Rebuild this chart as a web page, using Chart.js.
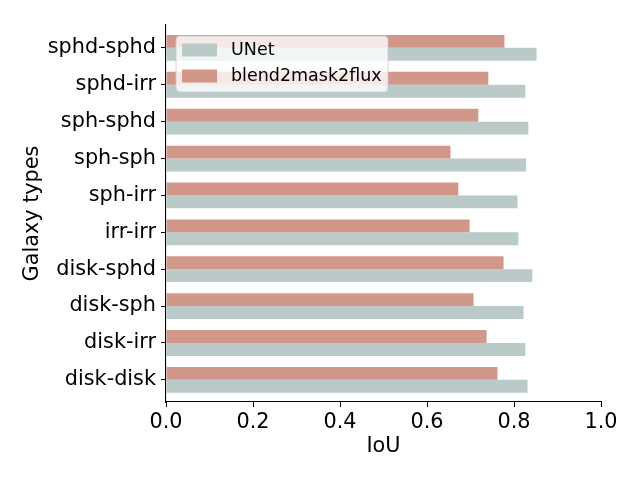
<!DOCTYPE html>
<html>
<head>
<meta charset="utf-8">
<script src="https://cdn.jsdelivr.net/npm/chart.js@4"></script>
<style>
  html, body { margin: 0; padding: 0; background: #fff; }
  #wrap { width: 640px; height: 480px; }
</style>
</head>
<body>
<div id="wrap"><canvas id="iouChart" width="640" height="480"></canvas></div>
<script>
// Galaxy pair types, top to bottom
const galaxyTypes = ['sphd-sphd', 'sphd-irr', 'sph-sphd', 'sph-sph', 'sph-irr',
                     'irr-irr', 'disk-sphd', 'disk-sph', 'disk-irr', 'disk-disk'];

// IoU per model
const unetIoU  = [0.852, 0.826, 0.833, 0.828, 0.808, 0.810, 0.842, 0.822, 0.826, 0.831];
const blendIoU = [0.778, 0.741, 0.718, 0.654, 0.672, 0.698, 0.776, 0.707, 0.737, 0.762];

const xTicks = [0.0, 0.2, 0.4, 0.6, 0.8, 1.0];

const FONT = 'DejaVu Sans';
const unetColor = 'rgb(186, 202, 200)';
const blendColor = 'rgb(209, 152, 138)';

// Turn a value list into {x, y} points on the index axis
function toPoints(values) {
    return values.map((v, i) => ({ x: v, y: i }));
}

// Legend drawn over the plot area, like matplotlib's "best" placement
const overlayLegend = {
    id: 'overlayLegend',
    afterDraw(chart) {
        const ctx = chart.ctx;
        const items = [
            { label: 'UNet', color: unetColor },
            { label: 'blend2mask2flux', color: blendColor }
        ];
        ctx.save();
        ctx.beginPath();
        ctx.roundRect(176, 36, 212, 56, 4);
        ctx.fillStyle = 'rgba(255, 255, 255, 0.8)';
        ctx.fill();
        ctx.strokeStyle = 'rgba(204, 204, 204, 0.8)';
        ctx.lineWidth = 1;
        ctx.stroke();

        ctx.font = '17.5px "' + FONT + '"';
        ctx.textBaseline = 'middle';
        items.forEach((item, i) => {
            const cy = 50 + i * 26;
            ctx.fillStyle = item.color;
            ctx.fillRect(182, cy - 6.5, 35, 13);
            ctx.fillStyle = '#000';
            ctx.fillText(item.label, 231, cy);
        });
        ctx.restore();
    }
};

new Chart(document.getElementById('iouChart'), {
    type: 'bar',
    data: {
        datasets: [
            {
                label: 'blend2mask2flux',
                data: toPoints(blendIoU),
                backgroundColor: blendColor,
                borderWidth: 0,
                categoryPercentage: 0.7,
                barPercentage: 1.0
            },
            {
                label: 'UNet',
                data: toPoints(unetIoU),
                backgroundColor: unetColor,
                borderWidth: 0,
                categoryPercentage: 0.7,
                barPercentage: 1.0
            }
        ]
    },
    options: {
        indexAxis: 'y',
        responsive: false,
        animation: false,
        layout: { padding: { top: 25, right: 39, left: 0, bottom: 0 } },
        scales: {
            x: {
                type: 'linear',
                min: 0,
                max: 1,
                afterFit: (scale) => { scale.height = 78; },
                afterBuildTicks: (scale) => { scale.ticks = xTicks.map(v => ({ value: v })); },
                ticks: {
                    color: '#000',
                    font: { family: FONT, size: 20.8 },
                    padding: 3,
                    maxRotation: 0,
                    callback: (v) => Number(v).toFixed(1)
                },
                grid: { drawOnChartArea: false, drawTicks: true, tickLength: 5, color: '#000' },
                border: { display: true, color: '#000', width: 1.1 },
                title: {
                    display: true,
                    text: 'IoU',
                    color: '#000',
                    font: { family: FONT, size: 20.8 },
                    padding: { top: 0, bottom: 21 }
                }
            },
            y: {
                type: 'linear',
                reverse: true,
                offset: false,
                min: -0.62,
                max: 9.6,
                afterFit: (scale) => { scale.width = 166; },
                afterBuildTicks: (scale) => { scale.ticks = galaxyTypes.map((c, i) => ({ value: i })); },
                ticks: {
                    color: '#000',
                    font: { family: FONT, size: 20.8 },
                    padding: 5,
                    callback: (v) => galaxyTypes[v]
                },
                grid: { offset: false, drawOnChartArea: false, drawTicks: true, tickLength: 5, color: '#000' },
                border: { display: true, color: '#000', width: 1.1 },
                title: {
                    display: true,
                    text: 'Galaxy types',
                    color: '#000',
                    font: { family: FONT, size: 20.8 },
                    padding: { top: 20, bottom: 0 }
                }
            }
        },
        plugins: {
            legend: { display: false },
            tooltip: { enabled: false }
        }
    },
    plugins: [overlayLegend]
});
</script>
</body>
</html>
